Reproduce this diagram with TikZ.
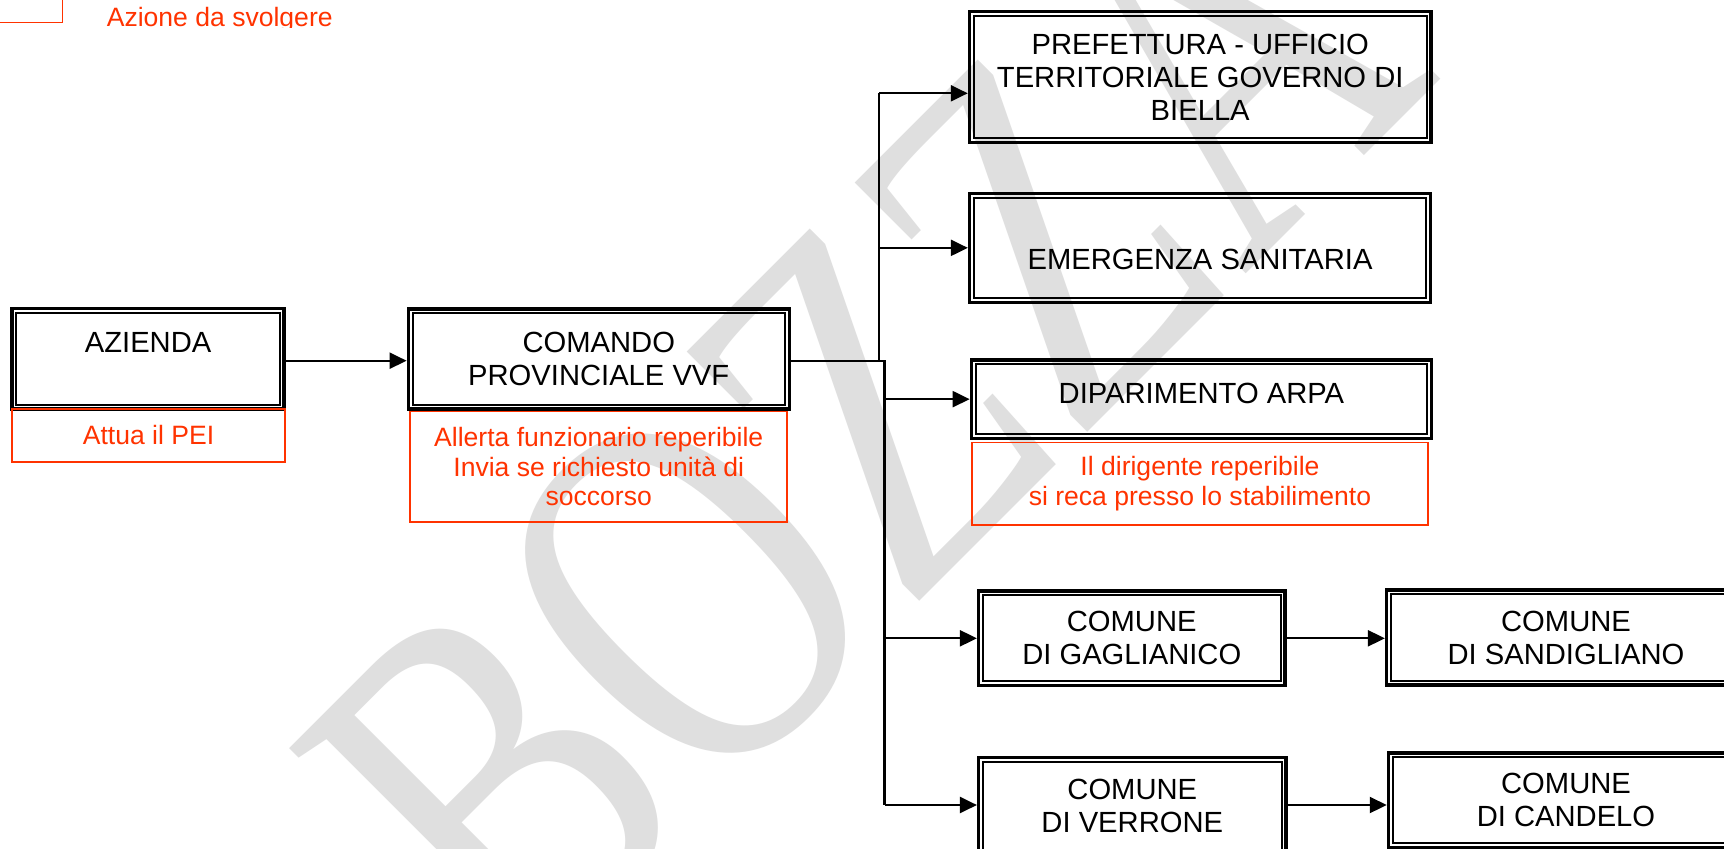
\documentclass[tikz,border=0pt]{standalone}
\usepackage{fontspec}
\setmainfont{Liberation Sans}
\newfontfamily\wmfont{Liberation Serif}
\usetikzlibrary{arrows.meta}
\definecolor{actred}{RGB}{255,51,0}
\tikzset{
  dbox/.style={draw, line width=0.94pt, inner sep=0pt, align=center,
    font=\fontsize{8.3}{9.4}\selectfont,
    path picture={\draw[line width=0.57pt]
      ([shift={(0.0435cm,0.0435cm)}]path picture bounding box.south west) rectangle
      ([shift={(-0.0435cm,-0.0435cm)}]path picture bounding box.north east);}},
  rbox/.style={draw=actred, line width=0.48pt, inner sep=0pt, align=center,
    text=actred, font=\fontsize{7.55}{8.4}\selectfont},
  conn/.style={line width=0.63pt},
  arr/.style={conn, -{Triangle[length=0.17cm, width=0.16cm]}},
  wmark/.style={text=gray!25, inner sep=0pt, rotate=45, yscale=1.333,
    font=\wmfont\fontsize{111}{111}\selectfont}
}
\begin{document}
\begin{tikzpicture}[x=0.01cm, y=-0.01cm]
\fill[white] (0,0) rectangle (1724,848);
\useasboundingbox (0,0) rectangle (1724,848);
\node[wmark] (bozza) at (862.6,417.4) {BOZZA};

\node[rbox, minimum width=1.0245cm, minimum height=0.5245cm] (legbox) at (11.2,-3.8) {};
\begin{scope}
  \clip (0,0) rectangle (1724,27.3);
  \node[rbox, draw=none, anchor=base west] (legtext) at (106,26) {Azione da svolgere};
\end{scope}

\node[dbox, minimum width=2.719cm, minimum height=1.007cm, text depth=0.316cm] (azienda) at (148.1,358.7) {AZIENDA};
\node[rbox, minimum width=2.724cm, minimum height=0.527cm] (attua) at (148.55,435.5) {Attua il PEI};
\node[dbox, minimum width=3.808cm, minimum height=1.001cm] (comando) at (598.75,359) {COMANDO\\PROVINCIALE VVF};
\node[rbox, minimum width=3.768cm, minimum height=1.103cm] (allerta) at (598.75,466.7) {Allerta funzionario reperibile\\Invia se richiesto unità di\\soccorso};
\node[dbox, minimum width=4.613cm, minimum height=1.307cm] (prefettura) at (1200.2,77) {PREFETTURA - UFFICIO\\TERRITORIALE GOVERNO DI\\BIELLA};
\node[dbox, minimum width=4.607cm, minimum height=1.09cm, text height=0.43cm] (emergenza) at (1200,247.85) {EMERGENZA SANITARIA};
\node[dbox, minimum width=4.599cm, minimum height=0.784cm, text depth=0.125cm] (arpa) at (1201.4,399.15) {DIPARIMENTO ARPA};
\node[rbox, minimum width=4.563cm, minimum height=0.826cm] (dirigente) at (1200,483.85) {Il dirigente reperibile\\si reca presso lo stabilimento};
\node[dbox, minimum width=3.062cm, minimum height=0.947cm] (gaglianico) at (1131.75,638.3) {COMUNE\\DI GAGLIANICO};
\node[dbox, minimum width=3.587cm, minimum height=0.951cm] (sandigliano) at (1566,637.5) {COMUNE\\DI SANDIGLIANO};
\node[dbox, minimum width=3.073cm, minimum height=0.97cm] (verrone) at (1132.3,805.9) {COMUNE\\DI VERRONE};
\node[dbox, minimum width=3.55cm, minimum height=0.947cm] (candelo) at (1566,800.3) {COMUNE\\DI CANDELO};

\coordinate (ttop) at (879,93.3);
\coordinate (tmid) at (879,360.7);
\coordinate (tjoin) at (884.5,360.7);
\coordinate (tbot) at (884.5,805);
\draw[arr] (azienda.east |- tjoin) -- (comando.west |- tjoin);
\draw[conn] (comando.east |- tjoin) -- (tjoin) -- (tbot);
\draw[conn] (ttop) -- (tmid);
\draw[arr] (ttop) -- (prefettura.west |- ttop);
\draw[arr] (ttop |- emergenza.west) -- (emergenza.west);
\draw[arr] (tjoin |- arpa.west) -- (arpa.west);
\draw[arr] (tjoin |- gaglianico.west) -- (gaglianico.west);
\draw[arr] (tbot) -- (verrone.west |- tbot);
\draw[arr] (gaglianico.east) -- (sandigliano.west |- gaglianico.east);
\draw[arr] (verrone.east |- tbot) -- (candelo.west |- tbot);
\end{tikzpicture}
\end{document}
